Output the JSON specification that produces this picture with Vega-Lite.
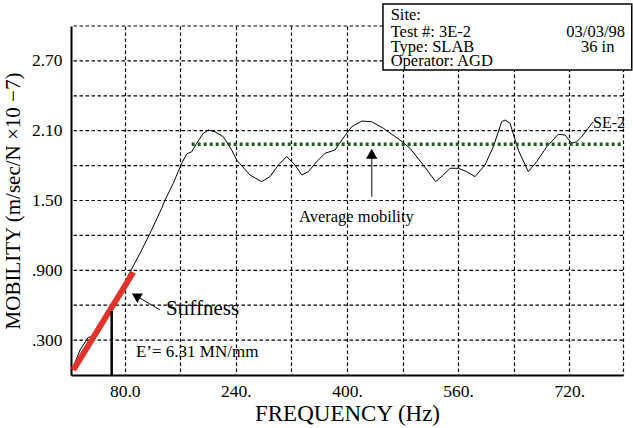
{
  "$schema": "https://vega.github.io/schema/vega-lite/v6.json",
  "width": 552,
  "height": 349,
  "autosize": {"type": "none"},
  "padding": {"left": 71, "top": 26, "right": 10, "bottom": 53},
  "background": "white",
  "config": {
    "view": {"stroke": null},
    "font": "Liberation Serif",
    "axis": {
      "gridColor": "#000000",
      "gridDash": [3.5, 2.5],
      "gridWidth": 1.2,
      "gridOpacity": 1,
      "ticks": false,
      "domainColor": "#000000",
      "domainWidth": 2,
      "labelFont": "Liberation Serif",
      "labelFontSize": 17.5,
      "labelColor": "#000000",
      "titleFont": "Liberation Serif",
      "titleFontWeight": "normal",
      "titleColor": "#000000",
      "labelOverlap": false,
      "labelFlush": false
    }
  },
  "datasets": {
    "ygrid": [
      {"m": 0.3}, {"m": 0.6}, {"m": 0.9}, {"m": 1.2}, {"m": 1.5},
      {"m": 1.8}, {"m": 2.1}, {"m": 2.4}, {"m": 2.7}, {"m": 3.0}
    ],
    "curve": [
      {"f": 3, "m": 0.03}, {"f": 15.5, "m": 0.215}, {"f": 27.4, "m": 0.324}, {"f": 32.3, "m": 0.329},
      {"f": 44.3, "m": 0.43}, {"f": 58.7, "m": 0.576}, {"f": 73.1, "m": 0.722}, {"f": 87.5, "m": 0.885},
      {"f": 101.9, "m": 1.046}, {"f": 116.3, "m": 1.218}, {"f": 133.1, "m": 1.433}, {"f": 137.9, "m": 1.504},
      {"f": 149.8, "m": 1.648}, {"f": 162.0, "m": 1.82}, {"f": 169.1, "m": 1.9}, {"f": 176.3, "m": 1.919},
      {"f": 183.5, "m": 1.992}, {"f": 193.0, "m": 2.078}, {"f": 200.2, "m": 2.106}, {"f": 209.9, "m": 2.091},
      {"f": 221.8, "m": 2.048}, {"f": 233.9, "m": 1.934}, {"f": 241.1, "m": 1.848}, {"f": 260.3, "m": 1.719},
      {"f": 277.1, "m": 1.662}, {"f": 289.1, "m": 1.705}, {"f": 301.1, "m": 1.805}, {"f": 313.2, "m": 1.877},
      {"f": 325.1, "m": 1.805}, {"f": 334.8, "m": 1.719}, {"f": 344.3, "m": 1.748}, {"f": 356.4, "m": 1.834},
      {"f": 368.3, "m": 1.906}, {"f": 382.7, "m": 1.934}, {"f": 392.4, "m": 2.02}, {"f": 406.8, "m": 2.134},
      {"f": 421.2, "m": 2.183}, {"f": 435.6, "m": 2.177}, {"f": 452.3, "m": 2.121}, {"f": 476.3, "m": 2.02},
      {"f": 490.7, "m": 1.949}, {"f": 509.9, "m": 1.805}, {"f": 527.7, "m": 1.662}, {"f": 538.7, "m": 1.719},
      {"f": 548.3, "m": 1.777}, {"f": 560.3, "m": 1.777}, {"f": 572.4, "m": 1.748}, {"f": 584.4, "m": 1.705},
      {"f": 598.7, "m": 1.805}, {"f": 610.7, "m": 1.962}, {"f": 622.8, "m": 2.177}, {"f": 627.6, "m": 2.192},
      {"f": 634.8, "m": 2.164}, {"f": 646.7, "m": 1.934}, {"f": 661.1, "m": 1.748}, {"f": 673.2, "m": 1.834},
      {"f": 687.6, "m": 1.962}, {"f": 704.3, "m": 2.069}, {"f": 714.0, "m": 2.063}, {"f": 723.6, "m": 1.992},
      {"f": 730.8, "m": 2.006}, {"f": 738.0, "m": 2.048}, {"f": 745.2, "m": 2.106}, {"f": 754.7, "m": 2.177}
    ],
    "avg": [{"f": 176.3, "m": 1.983}, {"f": 797.5, "m": 1.983}],
    "stiff": [{"f": 5.8, "m": 0.043}, {"f": 92.2, "m": 0.883}],
    "bar": [{"f": 61.1, "m": 0, "m2": 0.55}],
    "stiffArrow": [{"f": 130.7, "m": 0.559, "f2": 96.1, "m2": 0.681}],
    "avgArrow": [{"f": 435.6, "m": 1.533, "f2": 435.6, "m2": 1.9}],
    "headAvg": [{"f": 435.6, "m": 1.902}],
    "headStiff": [{"f": 96.1, "m": 0.681}],
    "stiffLabel": [{"f": 139.3, "m": 0.567, "label": "Stiffness"}],
    "eLabel": [{"f": 96.1, "m": 0.2, "label": "E’= 6.31 MN/mm"}],
    "avgLabel": [{"f": 330.9, "m": 1.318, "label": "Average mobility"}],
    "seLabel": [{"f": 754.3, "m": 2.121, "label": "SE-2"}],
    "box": [{"f": 451.8, "f2": 810.1, "m": 3.189, "m2": 2.622}],
    "boxLeft": [
      {"f": 462.9, "m": 3.095, "label": "Site:"},
      {"f": 462.9, "m": 2.951, "label": "Test #: 3E-2"},
      {"f": 462.9, "m": 2.822, "label": "Type: SLAB"},
      {"f": 462.9, "m": 2.699, "label": "Operator: AGD"}
    ],
    "boxRight": [{"f": 800.4, "m": 2.951, "label": "03/03/98"}],
    "boxCenter": [{"f": 761.1, "m": 2.822, "label": "36 in"}]
  },
  "layer": [
    {
      "data": {"name": "ygrid"},
      "mark": {"type": "rule", "color": "#000000", "strokeWidth": 1.2, "strokeDash": [3.5, 2.5]},
      "encoding": {"y": {"field": "m", "type": "quantitative"}}
    },
    {
      "data": {"name": "curve"},
      "mark": {"type": "line", "color": "#000000", "strokeWidth": 1, "clip": true},
      "encoding": {
        "x": {
          "field": "f", "type": "quantitative",
          "scale": {"domain": [2.5, 797.5], "nice": false, "zero": false},
          "axis": {
            "title": "FREQUENCY (Hz)",
            "titleFontSize": 23,
            "titlePadding": 3,
            "labelPadding": 7,
            "grid": true,
            "values": [80, 160, 240, 320, 400, 480, 560, 640, 720, 797.5],
            "labelExpr": "datum.value == 80 ? '80.0' : (datum.value == 240 || datum.value == 400 || datum.value == 560 || datum.value == 720) ? datum.value + '.' : ''"
          }
        },
        "y": {
          "field": "m", "type": "quantitative",
          "scale": {"domain": [0, 3], "nice": false, "zero": false},
          "axis": {
            "title": "MOBILITY (m/sec/N ×10 −7)",
            "titleFontSize": 21,
            "titlePadding": 8,
            "labelPadding": 9,
            "grid": false,
            "values": [0.3, 0.9, 1.5, 2.1, 2.7],
            "labelExpr": "datum.value == 0.3 ? '.300' : datum.value == 0.9 ? '.900' : datum.value == 1.5 ? '1.50' : datum.value == 2.1 ? '2.10' : '2.70'"
          }
        }
      }
    },
    {
      "data": {"name": "avg"},
      "mark": {"type": "line", "color": "#1d5c22", "strokeWidth": 3.5, "strokeDash": [3, 3]},
      "encoding": {"x": {"field": "f", "type": "quantitative"}, "y": {"field": "m", "type": "quantitative"}}
    },
    {
      "data": {"name": "stiff"},
      "mark": {"type": "line", "color": "#e2332a", "strokeWidth": 6, "strokeCap": "butt"},
      "encoding": {"x": {"field": "f", "type": "quantitative"}, "y": {"field": "m", "type": "quantitative"}}
    },
    {
      "data": {"name": "bar"},
      "mark": {"type": "rule", "color": "#000000", "strokeWidth": 2.5},
      "encoding": {"x": {"field": "f", "type": "quantitative"}, "y": {"field": "m", "type": "quantitative"}, "y2": {"field": "m2"}}
    },
    {
      "data": {"name": "stiffArrow"},
      "mark": {"type": "rule", "color": "#000000", "strokeWidth": 1},
      "encoding": {"x": {"field": "f", "type": "quantitative"}, "y": {"field": "m", "type": "quantitative"}, "x2": {"field": "f2"}, "y2": {"field": "m2"}}
    },
    {
      "data": {"name": "avgArrow"},
      "mark": {"type": "rule", "color": "#555555", "strokeWidth": 1.5},
      "encoding": {"x": {"field": "f", "type": "quantitative"}, "y": {"field": "m", "type": "quantitative"}, "x2": {"field": "f2"}, "y2": {"field": "m2"}}
    },
    {
      "data": {"name": "headAvg"},
      "mark": {"type": "point", "shape": "triangle-up", "filled": true, "color": "#000000", "size": 130, "opacity": 1},
      "encoding": {"x": {"field": "f", "type": "quantitative"}, "y": {"field": "m", "type": "quantitative"}}
    },
    {
      "data": {"name": "headStiff"},
      "mark": {"type": "point", "shape": "triangle-up", "filled": true, "color": "#000000", "size": 120, "opacity": 1, "angle": 300},
      "encoding": {"x": {"field": "f", "type": "quantitative"}, "y": {"field": "m", "type": "quantitative"}}
    },
    {
      "data": {"name": "stiffLabel"},
      "mark": {"type": "text", "align": "left", "baseline": "middle", "fontSize": 21, "font": "Liberation Serif", "color": "#000000"},
      "encoding": {"x": {"field": "f", "type": "quantitative"}, "y": {"field": "m", "type": "quantitative"}, "text": {"field": "label"}}
    },
    {
      "data": {"name": "eLabel"},
      "mark": {"type": "text", "align": "left", "baseline": "middle", "fontSize": 17, "font": "Liberation Serif", "color": "#000000"},
      "encoding": {"x": {"field": "f", "type": "quantitative"}, "y": {"field": "m", "type": "quantitative"}, "text": {"field": "label"}}
    },
    {
      "data": {"name": "avgLabel"},
      "mark": {"type": "text", "align": "left", "baseline": "alphabetic", "fontSize": 16.5, "font": "Liberation Serif", "color": "#000000"},
      "encoding": {"x": {"field": "f", "type": "quantitative"}, "y": {"field": "m", "type": "quantitative"}, "text": {"field": "label"}}
    },
    {
      "data": {"name": "seLabel"},
      "mark": {"type": "text", "align": "left", "baseline": "alphabetic", "fontSize": 16, "font": "Liberation Serif", "color": "#000000"},
      "encoding": {"x": {"field": "f", "type": "quantitative"}, "y": {"field": "m", "type": "quantitative"}, "text": {"field": "label"}}
    },
    {
      "data": {"name": "box"},
      "mark": {"type": "rect", "fill": "#ffffff", "stroke": "#000000", "strokeWidth": 1.5},
      "encoding": {"x": {"field": "f", "type": "quantitative"}, "x2": {"field": "f2"}, "y": {"field": "m", "type": "quantitative"}, "y2": {"field": "m2"}}
    },
    {
      "data": {"name": "boxLeft"},
      "mark": {"type": "text", "align": "left", "baseline": "middle", "fontSize": 16.5, "font": "Liberation Serif", "color": "#000000"},
      "encoding": {"x": {"field": "f", "type": "quantitative"}, "y": {"field": "m", "type": "quantitative"}, "text": {"field": "label"}}
    },
    {
      "data": {"name": "boxRight"},
      "mark": {"type": "text", "align": "right", "baseline": "middle", "fontSize": 16.5, "font": "Liberation Serif", "color": "#000000"},
      "encoding": {"x": {"field": "f", "type": "quantitative"}, "y": {"field": "m", "type": "quantitative"}, "text": {"field": "label"}}
    },
    {
      "data": {"name": "boxCenter"},
      "mark": {"type": "text", "align": "center", "baseline": "middle", "fontSize": 16.5, "font": "Liberation Serif", "color": "#000000"},
      "encoding": {"x": {"field": "f", "type": "quantitative"}, "y": {"field": "m", "type": "quantitative"}, "text": {"field": "label"}}
    }
  ]
}
